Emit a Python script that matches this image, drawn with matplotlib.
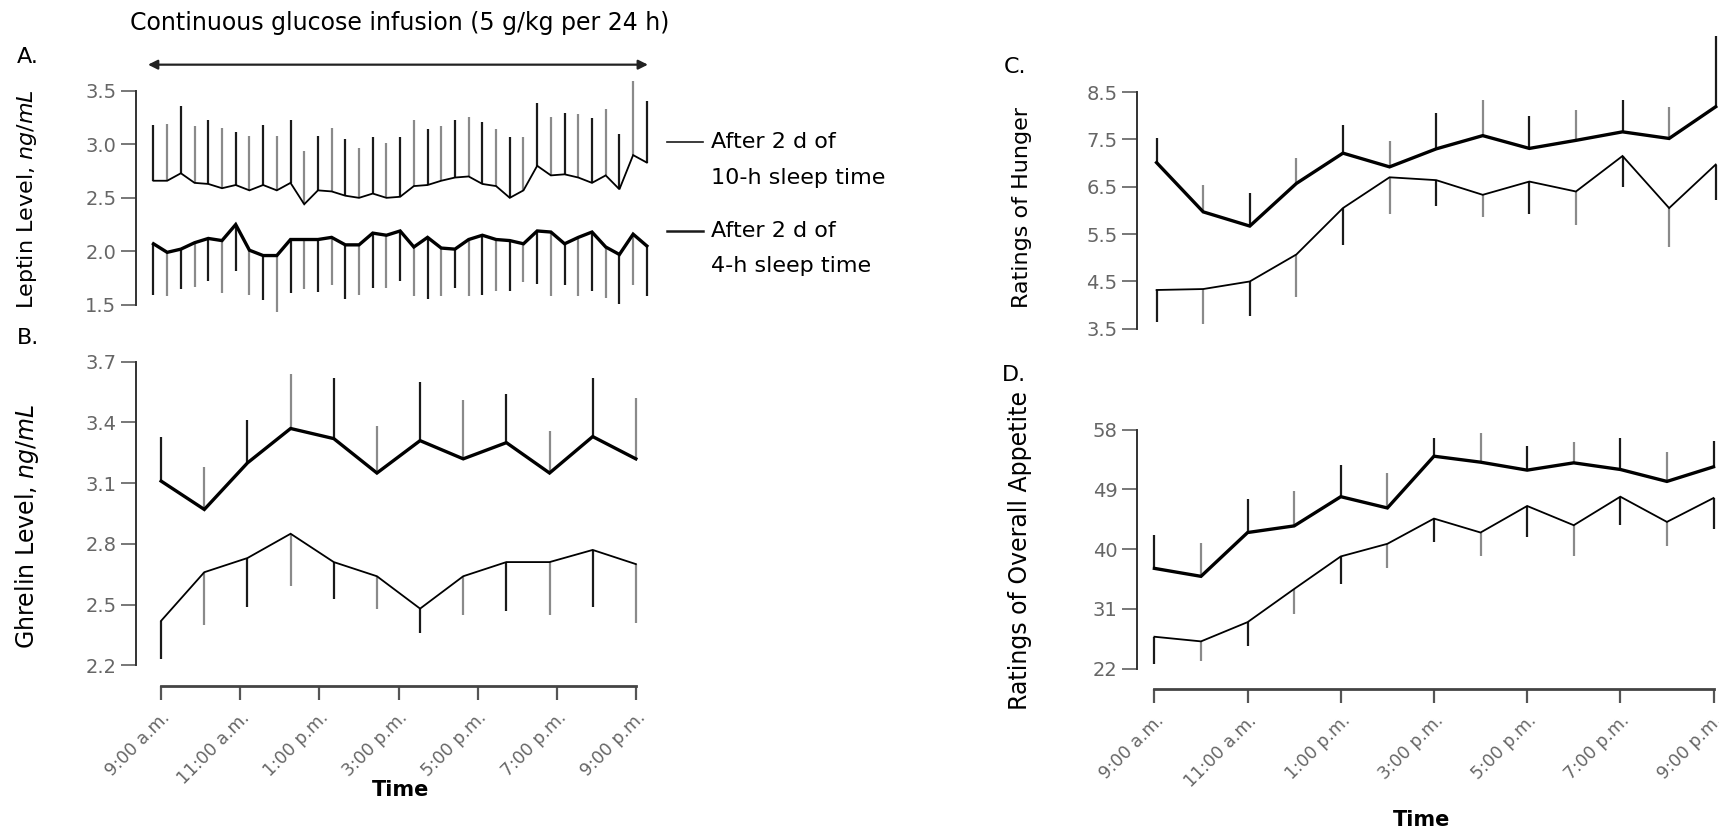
import numpy as np
import matplotlib
matplotlib.use('Agg')
import matplotlib.pyplot as plt
from matplotlib.lines import Line2D

plt.rcParams['font.family'] = ['DejaVu Sans']
plt.rcParams['mathtext.fontset'] = 'dejavusans'

# ---- data (means and SE) ----
# A. leptin, sampled every 20 min from 9:00 a.m. to 9:00 p.m.
leptin_t = np.linspace(9, 21, 37)
leptin_10h = [2.66, 2.66, 2.73, 2.64, 2.63, 2.59, 2.62, 2.57, 2.62, 2.57, 2.64, 2.44, 2.57,
              2.56, 2.52, 2.50, 2.54, 2.50, 2.51, 2.61, 2.62, 2.66, 2.69, 2.70, 2.63, 2.61,
              2.50, 2.57, 2.80, 2.71, 2.72, 2.69, 2.64, 2.71, 2.58, 2.90, 2.83]
leptin_10h_se = [0.52, 0.53, 0.63, 0.53, 0.60, 0.56, 0.50, 0.51, 0.56, 0.51, 0.59, 0.50, 0.51,
                 0.59, 0.53, 0.47, 0.53, 0.51, 0.56, 0.62, 0.52, 0.51, 0.54, 0.56, 0.58, 0.53,
                 0.57, 0.50, 0.59, 0.55, 0.57, 0.59, 0.61, 0.62, 0.52, 0.69, 0.58]
leptin_4h = [2.07, 1.99, 2.02, 2.08, 2.12, 2.10, 2.25, 2.01, 1.96, 1.96, 2.11, 2.11, 2.11,
             2.13, 2.06, 2.06, 2.17, 2.15, 2.19, 2.04, 2.13, 2.03, 2.02, 2.11, 2.15, 2.11,
             2.10, 2.07, 2.19, 2.18, 2.07, 2.13, 2.18, 2.04, 1.97, 2.16, 2.05]
leptin_4h_se = [0.48, 0.41, 0.37, 0.41, 0.40, 0.49, 0.43, 0.42, 0.42, 0.53, 0.50, 0.46, 0.49,
                0.45, 0.51, 0.47, 0.51, 0.49, 0.47, 0.46, 0.58, 0.45, 0.36, 0.53, 0.56, 0.48,
                0.47, 0.36, 0.50, 0.60, 0.39, 0.55, 0.55, 0.48, 0.46, 0.48, 0.47]

# B. ghrelin
ghrelin_t = np.linspace(9, 21, 12)
ghrelin_4h = [3.11, 2.97, 3.20, 3.37, 3.32, 3.15, 3.31, 3.22, 3.30, 3.15, 3.33, 3.22]
ghrelin_4h_se = [0.22, 0.21, 0.21, 0.27, 0.30, 0.23, 0.29, 0.29, 0.24, 0.21, 0.29, 0.30]
ghrelin_10h = [2.42, 2.66, 2.73, 2.85, 2.71, 2.64, 2.48, 2.64, 2.71, 2.71, 2.77, 2.70]
ghrelin_10h_se = [0.19, 0.26, 0.24, 0.26, 0.18, 0.16, 0.12, 0.19, 0.24, 0.26, 0.28, 0.29]

# C. hunger, D. overall appetite (hourly)
rating_t = np.linspace(9, 21, 13)
hunger_4h = [7.01, 5.97, 5.67, 6.57, 7.21, 6.92, 7.30, 7.58, 7.31, 7.48, 7.66, 7.52, 8.19]
hunger_4h_se = [0.52, 0.57, 0.70, 0.53, 0.60, 0.54, 0.75, 0.75, 0.69, 0.65, 0.68, 0.67, 1.50]
hunger_10h = [4.32, 4.34, 4.50, 5.07, 6.05, 6.70, 6.64, 6.33, 6.61, 6.40, 7.15, 6.05, 6.97]
hunger_10h_se = [0.68, 0.74, 0.73, 0.89, 0.77, 0.77, 0.55, 0.46, 0.68, 0.70, 0.65, 0.83, 0.74]

appetite_4h = [37.1, 35.9, 42.5, 43.5, 47.9, 46.2, 54.0, 53.1, 51.9, 53.0, 52.0, 50.2, 52.4]
appetite_4h_se = [5.1, 5.0, 5.0, 5.3, 4.7, 5.3, 2.7, 4.4, 3.7, 3.2, 4.8, 4.4, 3.9]
appetite_10h = [26.8, 26.1, 29.0, 34.0, 38.9, 40.8, 44.6, 42.5, 46.5, 43.6, 47.9, 44.1, 47.7]
appetite_10h_se = [4.1, 2.9, 3.6, 3.8, 4.1, 3.6, 3.5, 3.5, 4.6, 4.7, 4.3, 3.7, 4.7]

time_ticks = [9, 11, 13, 15, 17, 19, 21]
time_labels = ['9:00 a.m.', '11:00 a.m.', '1:00 p.m.', '3:00 p.m.', '5:00 p.m.', '7:00 p.m.', '9:00 p.m.']

# layout measured on the reference at 1568x760
W, H = 1568.0, 760.0
BAR_COLS = ['#1a1a1a', '#8a8a8a']

fig = plt.figure(figsize=(17.19, 8.33), dpi=100)


def make_axes(spine, first, last, top, bottom, ybot, ytop):
    px_per_h = (last - first) / 12.0
    ax = fig.add_axes([spine / W, 1 - bottom / H, (last - spine) / W, (bottom - top) / H])
    ax.set_xlim(9 - (first - spine) / px_per_h, 21)
    ax.set_ylim(ybot, ytop)
    for s in ['top', 'right']:
        ax.spines[s].set_visible(False)
    ax.spines['left'].set_bounds(ybot, ytop)
    ax.spines['left'].set_color('#333333')
    ax.spines['left'].set_linewidth(1.4)
    ax.tick_params(axis='y', direction='out', length=11, width=1.4, color='#777777',
                   labelcolor='#666666', labelsize=14, pad=3)
    ax.patch.set_alpha(0)
    ax.box_px = (spine, last, top, bottom)
    return ax


def label_at(ax, text, x, y, size):
    # place the y label at a reference pixel position
    spine, last, top, bottom = ax.box_px
    ax.set_ylabel(text, fontsize=size)
    ax.yaxis.set_label_coords((x - spine) / (last - spine), (bottom - y) / (bottom - top))


def time_axis(ax, outward):
    ax.spines['bottom'].set_position(('outward', outward))
    ax.spines['bottom'].set_bounds(9, 21)
    ax.spines['bottom'].set_color('#444444')
    ax.spines['bottom'].set_linewidth(2)
    ax.set_xticks(time_ticks)
    ax.set_xticklabels(time_labels, rotation=45, ha='right', rotation_mode='anchor')
    ax.tick_params(axis='x', direction='out', length=10, width=1.6, color='#555555',
                   labelcolor='#666666', labelsize=12.5, pad=6)


def no_time_axis(ax):
    ax.spines['bottom'].set_visible(False)
    ax.set_xticks([])


def series(ax, t, mean, se, lw, up):
    mean = np.asarray(mean)
    se = np.asarray(se)
    ends = mean + se if up else mean - se
    cols = [BAR_COLS[i % 2] for i in range(len(t))]
    ax.vlines(t, mean, ends, colors=cols, linewidth=1.6, clip_on=False, zorder=2)
    ax.plot(t, mean, color='black', linewidth=lw, clip_on=False, zorder=3,
            solid_joinstyle='miter')


# A. leptin
axA = make_axes(124, 140, 590, 83, 278, 1.5, 3.5)
no_time_axis(axA)
axA.set_yticks([1.5, 2.0, 2.5, 3.0, 3.5])
axA.set_yticklabels(['1.5', '2.0', '2.5', '3.0', '3.5'])
series(axA, leptin_t, leptin_10h, leptin_10h_se, 1.3, True)
series(axA, leptin_t, leptin_4h, leptin_4h_se, 2.4, False)
label_at(axA, 'Leptin Level, $\\it{ng/mL}$', 36, 182, 16)

# B. ghrelin
axB = make_axes(124, 147, 580, 330, 607, 2.2, 3.7)
axB.set_yticks([2.2, 2.5, 2.8, 3.1, 3.4, 3.7])
axB.set_yticklabels(['2.2', '2.5', '2.8', '3.1', '3.4', '3.7'])
time_axis(axB, 15)
series(axB, ghrelin_t, ghrelin_4h, ghrelin_4h_se, 2.4, True)
series(axB, ghrelin_t, ghrelin_10h, ghrelin_10h_se, 1.3, False)
label_at(axB, 'Ghrelin Level, $\\it{ng/mL}$', 37, 480, 17)

# C. hunger
axC = make_axes(1037, 1055, 1565, 84, 300, 3.5, 8.5)
no_time_axis(axC)
axC.set_yticks([3.5, 4.5, 5.5, 6.5, 7.5, 8.5])
axC.set_yticklabels(['3.5', '4.5', '5.5', '6.5', '7.5', '8.5'])
series(axC, rating_t, hunger_4h, hunger_4h_se, 2.4, True)
series(axC, rating_t, hunger_10h, hunger_10h_se, 1.3, False)
label_at(axC, 'Ratings of Hunger', 941, 189, 16)

# D. appetite
axD = make_axes(1037, 1053, 1563, 392, 610, 22, 58)
axD.set_yticks([22, 31, 40, 49, 58])
axD.set_yticklabels(['22', '31', '40', '49', '58'])
time_axis(axD, 15)
series(axD, rating_t, appetite_4h, appetite_4h_se, 2.4, True)
series(axD, rating_t, appetite_10h, appetite_10h_se, 1.3, False)
label_at(axD, 'Ratings of Overall Appetite', 941, 502, 17)

# x titles
fig.text(365 / W, 1 - 721 / H, 'Time', fontsize=15, fontweight='bold', ha='center', va='center')
fig.text(1297 / W, 1 - 748 / H, 'Time', fontsize=15, fontweight='bold', ha='center', va='center')

# panel letters
for txt, x, y in [('A.', 15, 52), ('B.', 15, 308), ('C.', 916, 61), ('D.', 914, 342)]:
    fig.text(x / W, 1 - y / H, txt, fontsize=16, ha='left', va='center')

# glucose infusion title + arrow
fig.text(365 / W, 1 - 21 / H, 'Continuous glucose infusion (5 g/kg per 24 h)',
         fontsize=17, ha='center', va='center')
axA.annotate('', xy=(591 / W, 1 - 59 / H), xytext=(135 / W, 1 - 59 / H),
             xycoords='figure fraction', textcoords='figure fraction',
             arrowprops=dict(arrowstyle='<|-|>', color='#222222', lw=1.6,
                             mutation_scale=14, shrinkA=0, shrinkB=0),
             annotation_clip=False)

# legend drawn by hand beside panel A
for y_line, lw, lines in [(130, 1.2, ('After 2 d of', '10-h sleep time')),
                          (211, 1.8, ('After 2 d of', '4-h sleep time'))]:
    fig.add_artist(Line2D([608 / W, 641 / W], [1 - y_line / H, 1 - y_line / H],
                          color='#1a1a1a', linewidth=lw))
    fig.text(649 / W, 1 - y_line / H, lines[0], fontsize=16, ha='left', va='center')
    fig.text(649 / W, 1 - (y_line + 32) / H, lines[1], fontsize=16, ha='left', va='center')

fig.savefig('out.png', dpi=100)
